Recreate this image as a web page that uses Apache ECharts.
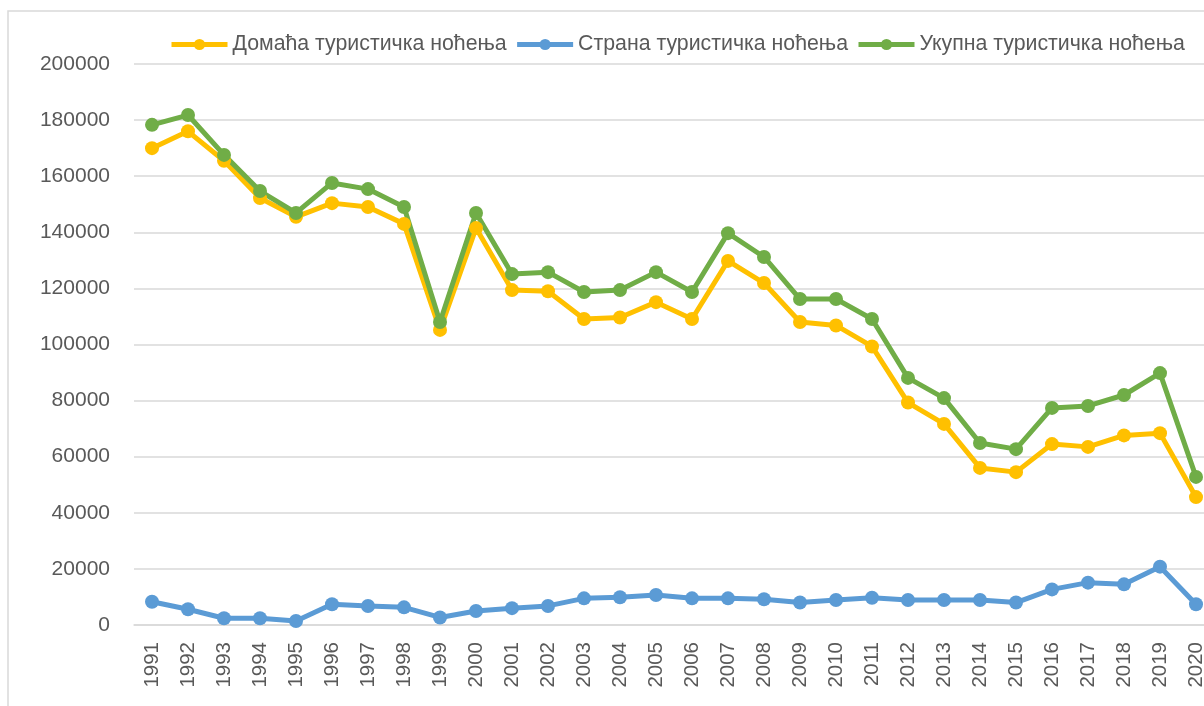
<!DOCTYPE html>
<html>
<head>
<meta charset="utf-8">
<script src="https://cdn.jsdelivr.net/npm/echarts@6/dist/echarts.min.js"></script>
<style>
html,body{margin:0;padding:0;background:#fff;}
#chart{width:1204px;height:706px;}
</style>
</head>
<body>
<div id="chart"></div>
<script>
const years = ['1991','1992','1993','1994','1995','1996','1997','1998','1999','2000','2001','2002','2003','2004','2005','2006','2007','2008','2009','2010','2011','2012','2013','2014','2015','2016','2017','2018','2019','2020'];
const domestic = [170000,176000,165500,152200,145500,150400,149000,143000,105200,141500,119400,119000,109100,109600,115100,109100,129800,121900,108000,106800,99300,79300,71700,56000,54500,64500,63500,67600,68400,45600];
const foreign = [8300,5600,2400,2400,1400,7400,6800,6300,2700,5000,6000,6800,9500,9900,10700,9500,9500,9200,8000,8900,9700,8900,8900,8900,8000,12700,15100,14500,20800,7400];
const total = [178300,181800,167600,154700,146900,157600,155400,149000,108000,146900,125100,125800,118700,119400,125800,118700,139700,131200,116200,116200,109100,88100,80900,64900,62700,77400,78100,82000,89800,52800];
const seriesNames = ['Домаћа туристичка ноћења','Страна туристичка ноћења','Укупна туристичка ноћења'];
const colors = ['#FFC000','#5B9BD5','#70AD47'];
const yTicks = {min:0, max:200000, interval:20000};

const chart = echarts.init(document.getElementById('chart'), null, {renderer:'canvas'});
const font = 'Liberation Sans, Arial, sans-serif';
function mk(name, data, color){
  return {
    name: name, type:'line', data: data,
    symbol:'circle', symbolSize:14, showSymbol:true,
    lineStyle:{width:5, color:color},
    itemStyle:{color:color},
    z: 2, animation:false
  };
}
chart.setOption({
  animation:false,
  color: colors,
  graphic:[{type:'rect', shape:{x:8, y:11, width:1400, height:900}, style:{fill:'none', stroke:'#d9d9d9', lineWidth:1.5}, silent:true, z:-1}],
  legend:{
    data: seriesNames,
    left:164, top:29, width:1100,
    itemWidth:56, itemHeight:14, itemGap:8,
    lineStyle:{width:5},
    textStyle:{color:'#595959', fontSize:21.3, fontFamily:font}
  },
  grid:{left:134, top:64, width:1080, height:561, outerBoundsMode:'none', containLabel:false},
  xAxis:{
    type:'category', data: years, boundaryGap:true,
    axisLine:{show:true, lineStyle:{color:'#d9d9d9', width:1.5}},
    axisTick:{show:false},
    axisLabel:{rotate:90, margin:17, color:'#595959', fontSize:20.5, fontFamily:font, interval:0}
  },
  yAxis:{
    type:'value', min:yTicks.min, max:yTicks.max, interval:yTicks.interval,
    axisLine:{show:false}, axisTick:{show:false},
    splitLine:{lineStyle:{color:'#d9d9d9', width:1.5}},
    axisLabel:{margin:24, color:'#595959', fontSize:21, fontFamily:font, formatter:function(v){return String(v);}}
  },
  series:[mk(seriesNames[0], domestic, colors[0]), mk(seriesNames[1], foreign, colors[1]), mk(seriesNames[2], total, colors[2])]
});
</script>
</body>
</html>
